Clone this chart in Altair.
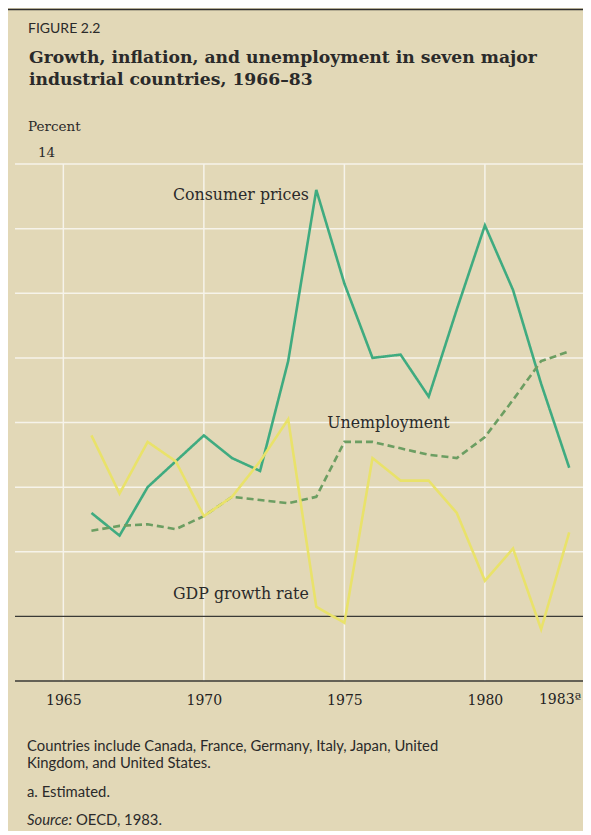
import altair as alt
import pandas as pd

years = list(range(1966, 1984))
consumer_prices = [3.2, 2.5, 4.0, 4.8, 5.6, 4.9, 4.5, 7.9, 13.2, 10.3, 8.0, 8.1, 6.8, 9.5, 12.1, 10.1, 7.2, 4.6]
unemployment = [2.65, 2.8, 2.85, 2.7, 3.1, 3.7, 3.6, 3.5, 3.7, 5.4, 5.4, 5.2, 5.0, 4.9, 5.55, 6.7, 7.9, 8.2]
gdp_growth = [5.6, 3.8, 5.4, 4.8, 3.1, 3.7, 4.8, 6.1, 0.3, -0.2, 4.9, 4.2, 4.2, 3.2, 1.1, 2.1, -0.4, 2.6]

series_names = ["Consumer prices", "Unemployment", "GDP growth rate"]
series_colors = ["#3fab80", "#6c9e62", "#e9e26a"]

x_tick_values = [1965, 1970, 1975, 1980]
last_label_year = [1983]
last_label_text = ["1983\u00aa"]
v_grid_years = [1965, 1970, 1975, 1980]
h_grid_values = [2, 4, 6, 8, 10, 12, 14]
dark_values = [0, -2]

BG = "#e2d8b7"
SERIF = "DejaVu Serif"
SANS = "Lato"

rows = []
for name, vals in zip(series_names, [consumer_prices, unemployment, gdp_growth]):
    for y, v in zip(years, vals):
        rows.append({"year": y, "value": v, "series": name})
df = pd.DataFrame(rows)

xscale = alt.Scale(domain=[1963.28, 1983.49], nice=False, zero=False)
yscale = alt.Scale(domain=[-2, 14], nice=False, zero=False)

vgrid = alt.Chart(pd.DataFrame({"year": v_grid_years})).mark_rule(
    color="#f6f3ea", strokeWidth=1.5
).encode(
    x=alt.X("year:Q", scale=xscale,
            axis=alt.Axis(values=x_tick_values, grid=False, ticks=False, domain=False,
                          format="d",
                          labelFont=SERIF, labelFontSize=14, labelColor="#222",
                          labelPadding=12, title=None, labelFlush=False)),
    y=alt.value(0), y2=alt.value(517)
)

last_label = alt.Chart(pd.DataFrame({"year": last_label_year, "t": last_label_text})).mark_text(
    align="right", baseline="top", font=SERIF, fontSize=14, color="#222", dx=12
).encode(x=alt.X("year:Q", scale=xscale), y=alt.value(529), text="t:N")

hgrid = alt.Chart(pd.DataFrame({"v": h_grid_values})).mark_rule(
    color="#f6f3ea", strokeWidth=1.5
).encode(
    y=alt.Y("v:Q", scale=yscale, axis=None),
    x=alt.value(0), x2=alt.value(568)
)

dark = alt.Chart(pd.DataFrame({"v": dark_values})).mark_rule(
    color="#3a3a36", strokeWidth=1.4
).encode(
    y=alt.Y("v:Q", scale=yscale, axis=None),
    x=alt.value(0), x2=alt.value(568)
)

top_rule = alt.Chart(pd.DataFrame({"a": [0]})).mark_rule(
    color="#2e2e2e", strokeWidth=1.5
).encode(x=alt.value(-7), x2=alt.value(568), y=alt.value(-154.5))

lines = alt.Chart(df).mark_line(strokeWidth=2.6).encode(
    x=alt.X("year:Q", scale=xscale),
    y=alt.Y("value:Q", scale=yscale, axis=None),
    color=alt.Color("series:N", scale=alt.Scale(domain=series_names, range=series_colors), legend=None),
    strokeDash=alt.StrokeDash("series:N",
                              scale=alt.Scale(domain=series_names, range=[[1, 0], [7, 4], [1, 0]]),
                              legend=None),
    order=alt.Order("year:Q"),
)

series_label_x = [1968.9, 1974.39, 1968.9]
series_label_y = [13.04, 6.0, 0.68]
lab_df = pd.DataFrame({"x": series_label_x, "y": series_label_y, "t": series_names})
series_labels = alt.Chart(lab_df).mark_text(
    align="left", baseline="middle", font=SERIF, fontSize=15.8, color="#2a2a2a"
).encode(
    x=alt.X("x:Q", scale=xscale), y=alt.Y("y:Q", scale=yscale), text="t:N"
)


def txt(s, x, y, font=SANS, size=13, weight="normal", style="normal", color="#2a2a2a"):
    return alt.Chart(pd.DataFrame({"t": [s]})).mark_text(
        align="left", baseline="alphabetic", font=font, fontSize=size,
        fontWeight=weight, fontStyle=style, color=color
    ).encode(x=alt.value(x), y=alt.value(y), text="t:N")


texts = [
    txt("FIGURE 2.2", 13, -131, SANS, 14),
    txt("Growth, inflation, and unemployment in seven major", 14, -101, SERIF, 17.2, "bold"),
    txt("industrial countries, 1966\u201383", 14, -79, SERIF, 17.2, "bold"),
    txt("Percent", 13, -33, SERIF, 13.5),
    txt("14", 23, -7, SERIF, 13.5),
    txt("Countries include Canada, France, Germany, Italy, Japan, United", 12, 587, SANS, 14.8),
    txt("Kingdom, and United States.", 12, 604, SANS, 14.8),
    txt("a. Estimated.", 12, 633, SANS, 14.8),
    txt("Source:", 12, 661, SANS, 14.8, style="italic"),
    txt("OECD, 1983.", 61, 661, SANS, 14.8),
]

chart = alt.layer(vgrid, hgrid, dark, top_rule, lines, series_labels, last_label, *texts).properties(
    width=568, height=517,
    background=BG,
    autosize=alt.AutoSizeParams(type="none"),
    padding={"left": 7, "top": 156, "right": 0, "bottom": 150},
).configure_view(strokeWidth=0)

chart.save("out.html", embed_options={"renderer": "svg", "actions": False})
